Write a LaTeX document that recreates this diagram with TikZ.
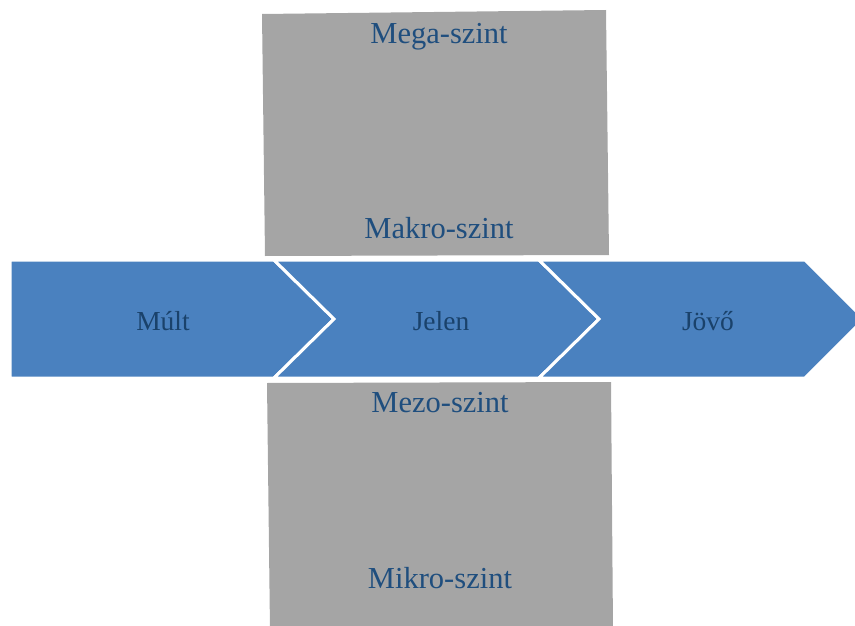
\documentclass[tikz,border=0pt]{standalone}
\usepackage{fontspec}
\setmainfont{Liberation Serif}
\usepackage{tikz}
\definecolor{chevblue}{HTML}{4A81BF}
\definecolor{levelgray}{HTML}{A5A5A5}
\definecolor{labelblue}{HTML}{1F4E7E}
\tikzset{
	levelbox/.style={fill=levelgray,draw=none},
	chev/.style={fill=chevblue,draw=white,line width=3pt,line join=miter},
	levellabel/.style={text=labelblue,font=\fontsize{30.5}{32}\selectfont,inner sep=0pt},
	timelabel/.style={text=labelblue!85!black,font=\fontsize{27.5}{30}\selectfont,inner sep=0pt}
}
\begin{document}
\begin{tikzpicture}[x=1pt,y=-1pt]
	\useasboundingbox (0,0) rectangle (855,626);
	\clip (0,0) rectangle (855,626);

	\fill [levelbox] (262,14) -- (606,10) -- (609,255) -- (265,256) -- cycle;
	\fill [levelbox] (267,383) -- (611,382) -- (613,630) -- (270,630) -- cycle;

	\draw [chev] (10,260) -- (274,260) -- (334,319) -- (274,378) -- (10,378) -- cycle;
	\draw [chev] (274,260) -- (539,260) -- (599,319) -- (539,378) -- (274,378) -- (334,319) -- cycle;
	\draw [chev] (539,260) -- (805,260) -- (864,319) -- (805,378) -- (539,378) -- (599,319) -- cycle;

	\node [levellabel] (mega) at (439,37) {Mega-szint};
	\node [levellabel] (makro) at (439,228) {Makro-szint};
	\node [levellabel] (mezo) at (440,403) {Mezo-szint};
	\node [levellabel] (mikro) at (440,578) {Mikro-szint};

	\node [timelabel] (mult) at (163,321) {Múlt};
	\node [timelabel] (jelen) at (441,321) {Jelen};
	\node [timelabel] (jovo) at (708,321) {Jövő};
\end{tikzpicture}
\end{document}
